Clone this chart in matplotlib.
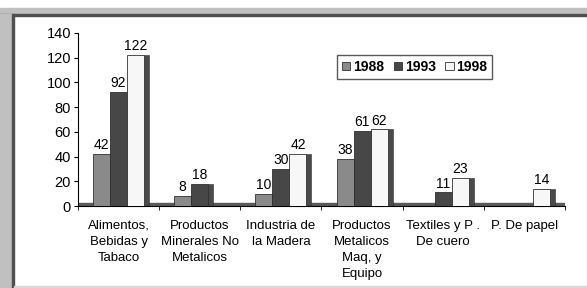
import matplotlib.pyplot as plt
import numpy as np
from matplotlib.patches import Rectangle

categories = ['Alimentos,\nBebidas y\nTabaco', 'Productos\nMinerales No\nMetalicos',
              'Industria de\nla Madera', 'Productos\nMetalicos\nMaq, y\nEquipo',
              'Textiles y P .\nDe cuero', 'P. De papel']
years = ['1988', '1993', '1998']
v1988 = [42, 8, 10, 38, 0, 0]
v1993 = [92, 18, 30, 61, 11, 0]
v1998 = [122, 0, 42, 62, 23, 14]
colors = ['#8a8a8a', '#474747', '#f7f7f7']

plt.rcParams['font.family'] = ['Liberation Sans', 'DejaVu Sans']

fig = plt.figure(figsize=(5.87, 2.88), dpi=100)

# outer frame like a pasted excel chart
fig.patches.append(Rectangle((0, 1 - 14 / 288), 1, 6 / 288, transform=fig.transFigure,
                             color='#c0c0c0', zorder=0))
fig.patches.append(Rectangle((0, 1 - 16 / 288), 1, 2 / 288, transform=fig.transFigure,
                             color='#505050', zorder=0))
fig.patches.append(Rectangle((0, 0), 12 / 587, 1 - 14 / 288, transform=fig.transFigure,
                             color='#c0c0c0', zorder=0))
fig.patches.append(Rectangle((12 / 587, 0), 2 / 587, 1 - 14 / 288, transform=fig.transFigure,
                             color='#505050', zorder=0))
fig.patches.append(Rectangle((14 / 587, 1 / 288), 1, 1 / 288, transform=fig.transFigure,
                             color='#d8d8d8', zorder=0))

ax = fig.add_axes([78 / 587, 1 - 206 / 288, 487 / 587, 173 / 288])
x = np.arange(len(categories))
w = 0.21
side = 0.06

# floor of the 3d chart
ax.axhspan(0, 2.2, color='#5a5a5a', zorder=1)

series = [v1988, v1993, v1998]
for i, vals in enumerate(series):
    pos = x + (i - 1) * w
    ax.bar(pos, vals, w, color=colors[i], edgecolor='#303030', linewidth=0.6,
           label=years[i], zorder=3)
    for p, v in zip(pos, vals):
        if v > 0:
            # side face
            ax.bar(p + w / 2 + side / 2, v, side, color='#4a4a4a', edgecolor='#303030',
                   linewidth=0.4, zorder=2)
            ax.text(p, v + 1.5, str(v), ha='center', va='bottom', fontsize=10,
                    bbox=dict(facecolor='white', edgecolor='none', pad=0.3), zorder=4)

ax.set_xlim(-0.5, len(categories) - 0.5)
ax.set_ylim(0, 140)
ax.set_yticks(range(0, 141, 20))
ax.set_xticks(np.arange(len(categories) + 1) - 0.5, minor=True)
ax.set_xticks(x)
ax.set_xticklabels(categories, fontsize=9.5, linespacing=1.45)
ax.tick_params(axis='x', which='major', length=0, pad=10)
ax.tick_params(axis='x', which='minor', length=3, direction='out')
ax.tick_params(axis='y', labelsize=10.5, length=3, direction='out', pad=2)
for s in ['top', 'right']:
    ax.spines[s].set_visible(False)
ax.spines['left'].set_linewidth(0.8)
ax.spines['bottom'].set_linewidth(0.8)

leg = ax.legend(loc='upper left', bbox_to_anchor=(252 / 487, 1 - 15 / 173), ncol=3,
                frameon=True, fancybox=False, edgecolor='#303030',
                prop={'weight': 'bold', 'size': 10}, handlelength=0.6, handleheight=0.6,
                handletextpad=0.2, columnspacing=0.7, borderpad=0.35)
leg.get_frame().set_linewidth(1.0)

fig.savefig('out.png', dpi=100)
